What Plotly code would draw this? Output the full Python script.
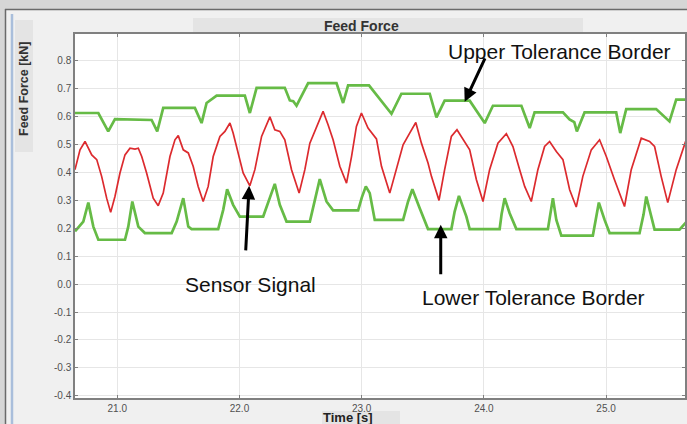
import plotly.graph_objects as go

# ---- data (time in s, force in kN) ----
upper_t = [20.654, 20.845, 20.926, 20.981, 21.281, 21.327, 21.376, 21.635, 21.690, 21.731,
           21.813, 22.044, 22.085, 22.140, 22.371, 22.412, 22.440, 22.467, 22.562, 22.794,
           22.848, 22.889, 23.060, 23.244, 23.325, 23.557, 23.612, 23.679, 23.884, 24.007,
           24.074, 24.307, 24.375, 24.415, 24.647, 24.701, 24.740, 24.761, 24.824, 25.083,
           25.116, 25.165, 25.410, 25.478, 25.519, 25.574, 25.660]
upper_v = [0.613, 0.613, 0.547, 0.591, 0.588, 0.547, 0.631, 0.631, 0.577, 0.649,
           0.675, 0.675, 0.613, 0.703, 0.703, 0.658, 0.655, 0.639, 0.720, 0.720,
           0.649, 0.712, 0.712, 0.610, 0.682, 0.682, 0.597, 0.657, 0.657, 0.577,
           0.639, 0.639, 0.559, 0.615, 0.615, 0.590, 0.580, 0.547, 0.615, 0.615,
           0.541, 0.627, 0.627, 0.601, 0.583, 0.661, 0.661]

lower_t = [20.654, 20.722, 20.763, 20.804, 20.845, 21.063, 21.090, 21.123, 21.172, 21.226,
           21.445, 21.486, 21.540, 21.581, 21.608, 21.826, 21.867, 21.899, 21.948, 22.003,
           22.194, 22.235, 22.289, 22.330, 22.385, 22.576, 22.617, 22.657, 22.712, 22.766,
           22.971, 23.001, 23.034, 23.066, 23.107, 23.339, 23.380, 23.415, 23.475, 23.543,
           23.734, 23.761, 23.796, 23.857, 23.884, 24.129, 24.145, 24.170, 24.211, 24.266,
           24.524, 24.565, 24.593, 24.634, 24.892, 24.922, 24.941, 24.988, 25.029, 25.274,
           25.307, 25.329, 25.370, 25.397, 25.601, 25.660]
lower_v = [0.189, 0.224, 0.292, 0.206, 0.159, 0.159, 0.206, 0.296, 0.206, 0.183,
           0.183, 0.224, 0.308, 0.206, 0.197, 0.197, 0.266, 0.340, 0.284, 0.242,
           0.242, 0.290, 0.359, 0.284, 0.224, 0.224, 0.302, 0.376, 0.296, 0.264,
           0.264, 0.310, 0.350, 0.326, 0.230, 0.230, 0.296, 0.340, 0.272, 0.197,
           0.197, 0.260, 0.316, 0.242, 0.197, 0.197, 0.250, 0.308, 0.254, 0.197,
           0.197, 0.308, 0.230, 0.174, 0.174, 0.240, 0.292, 0.230, 0.183, 0.183,
           0.250, 0.314, 0.242, 0.195, 0.195, 0.224]

sensor_t = [20.654, 20.695, 20.736, 20.763, 20.791, 20.832, 20.872, 20.913, 20.946, 20.981,
            21.022, 21.063, 21.104, 21.145, 21.172, 21.200, 21.240, 21.294, 21.335, 21.376,
            21.431, 21.472, 21.499, 21.540, 21.581, 21.621, 21.662, 21.703, 21.744, 21.785,
            21.840, 21.881, 21.922, 21.948, 21.989, 22.030, 22.085, 22.126, 22.181, 22.249,
            22.289, 22.330, 22.371, 22.426, 22.488, 22.535, 22.576, 22.630, 22.684, 22.725,
            22.766, 22.821, 22.876, 22.917, 22.957, 22.998, 23.052, 23.121, 23.162, 23.230,
            23.285, 23.339, 23.393, 23.443, 23.489, 23.543, 23.571, 23.633, 23.679, 23.734,
            23.780, 23.829, 23.884, 23.939, 23.993, 24.047, 24.115, 24.184, 24.238, 24.293,
            24.334, 24.388, 24.442, 24.497, 24.538, 24.593, 24.647, 24.702, 24.756, 24.810,
            24.879, 24.947, 25.002, 25.069, 25.151, 25.206, 25.288, 25.356, 25.397, 25.451,
            25.505, 25.574, 25.660]
sensor_v = [0.410, 0.481, 0.511, 0.487, 0.463, 0.446, 0.386, 0.308, 0.257, 0.314,
            0.398, 0.463, 0.487, 0.484, 0.487, 0.457, 0.398, 0.308, 0.281, 0.326,
            0.457, 0.517, 0.532, 0.481, 0.470, 0.422, 0.350, 0.296, 0.350, 0.457,
            0.529, 0.547, 0.577, 0.541, 0.470, 0.398, 0.352, 0.410, 0.529, 0.599,
            0.553, 0.547, 0.517, 0.410, 0.326, 0.410, 0.505, 0.565, 0.619, 0.571,
            0.517, 0.422, 0.362, 0.457, 0.565, 0.613, 0.559, 0.520, 0.422, 0.326,
            0.410, 0.499, 0.541, 0.579, 0.505, 0.434, 0.386, 0.300, 0.410, 0.529,
            0.553, 0.517, 0.481, 0.374, 0.296, 0.410, 0.505, 0.539, 0.493, 0.410,
            0.350, 0.296, 0.410, 0.493, 0.511, 0.475, 0.446, 0.338, 0.276, 0.386,
            0.481, 0.517, 0.457, 0.374, 0.278, 0.410, 0.523, 0.511, 0.493, 0.386,
            0.292, 0.410, 0.523]

time_ticks = [21.0, 22.0, 23.0, 24.0, 25.0]
time_tick_labels = ["21.0", "22.0", "23.0", "24.0", "25.0"]
force_ticks = [-0.4, -0.3, -0.2, -0.1, 0.0, 0.1, 0.2, 0.3, 0.4, 0.5, 0.6, 0.7, 0.8]
force_tick_labels = ["-0.4", "-0.3", "-0.2", "-0.1", "0.0", "0.1", "0.2", "0.3",
                     "0.4", "0.5", "0.6", "0.7", "0.8"]

# ---- layout geometry ----
W, H = 687, 424
L, R, T, B = 75, 2, 34, 26
PW, PH = W - L - R, H - T - B


def fx(p):
    return (p - L) / PW


def fy(p):
    return (H - B - p) / PH


FONT = "Liberation Sans, Arial, sans-serif"
GREEN = "#66bb46"
RED = "#dc2a2e"

fig = go.Figure()
fig.add_trace(go.Scatter(x=upper_t, y=upper_v, mode="lines",
                         line=dict(color=GREEN, width=2.7), name="Upper Tolerance Border"))
fig.add_trace(go.Scatter(x=lower_t, y=lower_v, mode="lines",
                         line=dict(color=GREEN, width=2.7), name="Lower Tolerance Border"))
fig.add_trace(go.Scatter(x=sensor_t, y=sensor_v, mode="lines",
                         line=dict(color=RED, width=1.7), name="Sensor Signal"))

axis_common = dict(showline=True, linecolor="#808080", linewidth=1.5, mirror="ticks",
                   ticks="inside", ticklen=3, tickcolor="#808080", showgrid=True,
                   gridcolor="#e6e6e6", gridwidth=1, zeroline=False, automargin=False,
                   tickfont=dict(family=FONT, size=10, color="#505050"))

fig.update_xaxes(range=[20.654, 25.646], tickvals=time_ticks, ticktext=time_tick_labels,
                 **axis_common)
fig.update_yaxes(range=[-0.408, 0.896], tickvals=force_ticks, ticktext=force_tick_labels,
                 **axis_common)

shapes = [
    # window chrome
    dict(type="rect", xref="paper", yref="paper", x0=fx(0), x1=fx(W), y0=fy(0), y1=fy(9),
         fillcolor="#d6d6d6", line=dict(width=0), layer="below"),
    dict(type="rect", xref="paper", yref="paper", x0=fx(0), x1=fx(5), y0=fy(0), y1=fy(H),
         fillcolor="#d6d6d6", line=dict(width=0), layer="below"),
    dict(type="line", xref="paper", yref="paper", x0=fx(5), x1=fx(W), y0=fy(9.5), y1=fy(9.5),
         line=dict(color="#6a6a6a", width=1.5), layer="below"),
    dict(type="line", xref="paper", yref="paper", x0=fx(5.5), x1=fx(5.5), y0=fy(9), y1=fy(H),
         line=dict(color="#6a6a6a", width=1.5), layer="below"),
    dict(type="line", xref="paper", yref="paper", x0=fx(12), x1=fx(12), y0=fy(14), y1=fy(H),
         line=dict(color="#a9bedb", width=2.5), layer="below"),
    # title / axis title boxes
    dict(type="rect", xref="paper", yref="paper", x0=fx(193), x1=fx(583), y0=fy(18), y1=fy(33),
         fillcolor="#e4e4e4", line=dict(width=0), layer="below"),
    dict(type="rect", xref="paper", yref="paper", x0=fx(15), x1=fx(33), y0=fy(20), y1=fy(152),
         fillcolor="#e4e4e4", line=dict(width=0), layer="below"),
    dict(type="rect", xref="paper", yref="paper", x0=fx(322), x1=fx(400), y0=fy(411), y1=fy(H),
         fillcolor="#e4e4e4", line=dict(width=0), layer="below"),
]

annotations = [
    dict(text="<b>Feed Force</b>", xref="paper", yref="paper", x=fx(361), y=fy(26),
         xanchor="center", yanchor="middle", showarrow=False,
         font=dict(family=FONT, size=14, color="#333333")),
    dict(text="<b>Feed Force [kN]</b>", xref="paper", yref="paper", x=fx(24), y=fy(89),
         xanchor="center", yanchor="middle", showarrow=False, textangle=-90,
         font=dict(family=FONT, size=12.5, color="#333333")),
    dict(text="<b>Time [s]</b>", xref="paper", yref="paper", x=fx(348), y=fy(417.5),
         xanchor="center", yanchor="middle", showarrow=False,
         font=dict(family=FONT, size=13, color="#222222")),
    dict(text="Upper Tolerance Border", xref="paper", yref="paper", x=fx(559), y=fy(51.7),
         xanchor="center", yanchor="middle", showarrow=False,
         font=dict(family=FONT, size=21, color="#111111")),
    dict(text="Sensor Signal", xref="paper", yref="paper", x=fx(250), y=fy(284.4),
         xanchor="center", yanchor="middle", showarrow=False,
         font=dict(family=FONT, size=21, color="#111111")),
    dict(text="Lower Tolerance Border", xref="paper", yref="paper", x=fx(533), y=fy(297.7),
         xanchor="center", yanchor="middle", showarrow=False,
         font=dict(family=FONT, size=21, color="#111111")),
    # arrows (tip in data coordinates, tail as pixel offset)
    dict(text="", x=23.843, y=0.653, xref="x", yref="y", ax=21, ay=-45, showarrow=True,
         arrowhead=2, arrowsize=0.9, arrowwidth=3, arrowcolor="#000000", standoff=0),
    dict(text="", x=22.079, y=0.352, xref="x", yref="y", ax=-3.5, ay=66, showarrow=True,
         arrowhead=2, arrowsize=0.9, arrowwidth=3, arrowcolor="#000000", standoff=0),
    dict(text="", x=23.647, y=0.2125, xref="x", yref="y", ax=0, ay=51, showarrow=True,
         arrowhead=2, arrowsize=0.9, arrowwidth=3, arrowcolor="#000000", standoff=0),
]

fig.update_layout(width=W, height=H, margin=dict(l=L, r=R, t=T, b=B, autoexpand=False),
                  paper_bgcolor="#f0f0f0", plot_bgcolor="#ffffff", showlegend=False,
                  shapes=shapes, annotations=annotations,
                  font=dict(family=FONT))

fig.write_html("out.html",
               config={"displayModeBar": False},
               post_script="document.body.style.margin='0px';"
                           "document.body.style.overflow='hidden';")
